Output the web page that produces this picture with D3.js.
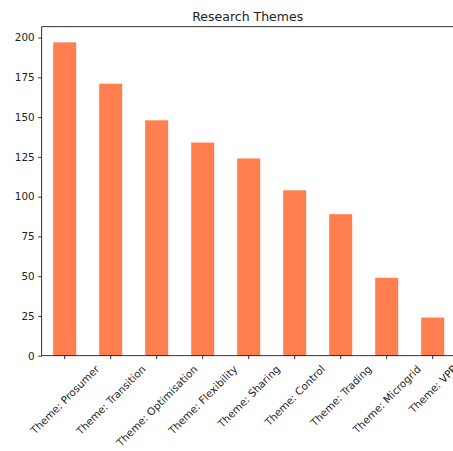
<!DOCTYPE html>
<html>
<head>
<meta charset="utf-8">
<script src="https://cdn.jsdelivr.net/npm/d3@7"></script>
<style>
  body { margin: 0; background: #fff; overflow: hidden; }
  text { font-family: "DejaVu Sans", sans-serif; fill: #222; }
</style>
</head>
<body>
<div id="chart"></div>
<script>
// data
var themes = ["Theme: Prosumer", "Theme: Transition", "Theme: Optimisation",
              "Theme: Flexibility", "Theme: Sharing", "Theme: Control",
              "Theme: Trading", "Theme: Microgrid", "Theme: VPP"];
var counts = [197, 171, 148, 134, 124, 104, 89, 49, 24];
var yTicks = [0, 25, 50, 75, 100, 125, 150, 175, 200];
var chartTitle = "Research Themes";

// figure size and the axes box (window.top is taken, so plotTop etc.)
var W = 453, H = 451;
var plotLeft = 41.7, plotRight = 455.7, plotTop = 26.7, plotBottom = 355.7;

var svg = d3.select("#chart")
  .append("svg")
    .attr("width", W)
    .attr("height", H);

var x = d3.scaleBand()
  .domain(themes)
  .range([plotLeft, plotRight])
  .paddingInner(0.5)
  .paddingOuter(0.25);

var y = d3.scaleLinear()
  .domain([0, d3.max(counts) * 1.05])
  .range([plotBottom, plotTop]);

// bars
svg.append("g")
  .selectAll("rect")
  .data(themes)
  .enter().append("rect")
    .attr("x", function(d) { return x(d); })
    .attr("y", function(d, i) { return y(counts[i]); })
    .attr("width", x.bandwidth())
    .attr("height", function(d, i) { return plotBottom - y(counts[i]); })
    .attr("fill", "#ff7f50");

// frame
svg.append("rect")
  .attr("x", plotLeft).attr("y", plotTop)
  .attr("width", plotRight - plotLeft).attr("height", plotBottom - plotTop)
  .attr("fill", "none")
  .attr("stroke", "#000")
  .attr("stroke-width", 0.8);

// y axis
var yAxis = svg.append("g")
  .attr("transform", "translate(" + plotLeft + ",0)")
  .call(d3.axisLeft(y).tickValues(yTicks).tickSize(3.5).tickPadding(3.5));
yAxis.select(".domain").remove();
yAxis.selectAll("line").attr("stroke", "#000").attr("stroke-width", 0.8);
yAxis.selectAll("text")
  .style("font-family", "DejaVu Sans, sans-serif")
  .style("font-size", "10.4px")
  .attr("fill", "#222");

// x axis, ticks only; labels are placed by hand below
var xAxis = svg.append("g")
  .attr("transform", "translate(0," + plotBottom + ")")
  .call(d3.axisBottom(x).tickSize(3.5).tickFormat(""));
xAxis.select(".domain").remove();
xAxis.selectAll("line").attr("stroke", "#000").attr("stroke-width", 0.8);

// rotated labels, box centred under the tick like matplotlib does
var labelTop = plotBottom + 3.5 + 3.5;
var fs = 10.4;
svg.append("g")
  .selectAll("text")
  .data(themes)
  .enter().append("text")
    .text(function(d) { return d; })
    .style("font-size", fs + "px")
    .attr("text-anchor", "middle")
    .attr("dominant-baseline", "central")
    .attr("transform", function(d) {
      var len = this.getComputedTextLength();
      var h = fs * 1.16;
      var half = (len + h) * Math.SQRT1_2 / 2;
      var cx = x(d) + x.bandwidth() / 2;
      return "translate(" + cx + "," + (labelTop + half) + ") rotate(-45)";
    });

// title
svg.append("text")
  .attr("x", (plotLeft + plotRight) / 2 - 1)
  .attr("y", plotTop - 6)
  .attr("text-anchor", "middle")
  .style("font-size", "12.5px")
  .text(chartTitle);
</script>
</body>
</html>
